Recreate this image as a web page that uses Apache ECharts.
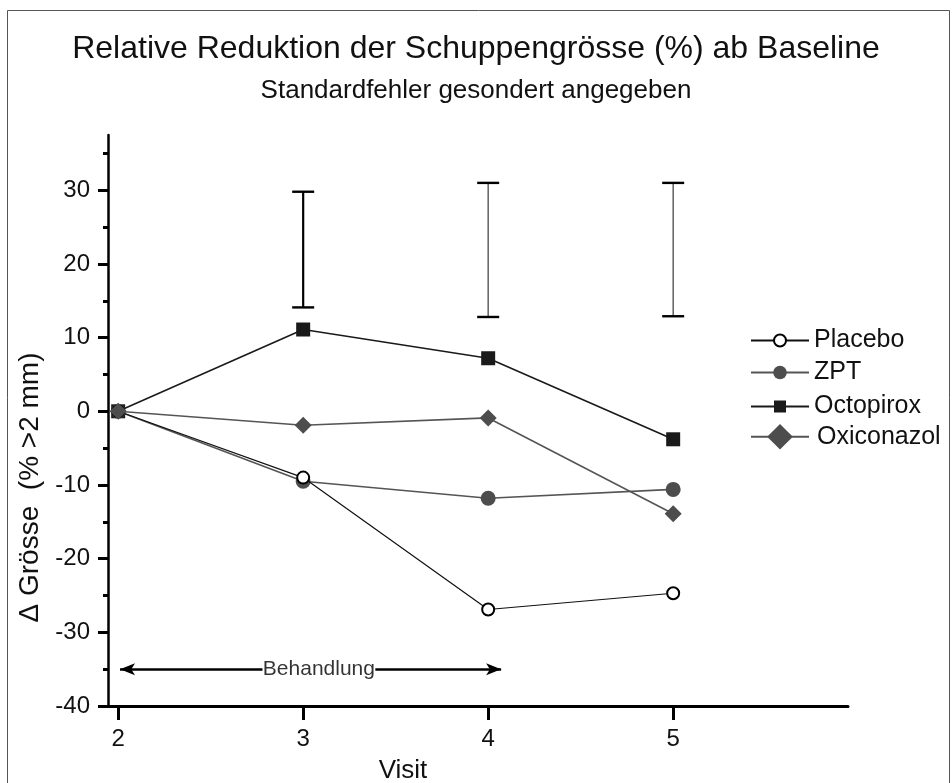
<!DOCTYPE html>
<html>
<head>
<meta charset="utf-8">
<style>
  html, body { margin: 0; padding: 0; background: #fff; }
  #chart { width: 952px; height: 783px; }
</style>
<script src="https://cdn.jsdelivr.net/npm/echarts@6/dist/echarts.min.js"></script>
</head>
<body>
<div id="chart"></div>
<script>
    // Werte
    var visits = [2, 3, 4, 5];
    var placebo = [0, -9.0, -26.9, -24.7];
    var zpt = [0, -9.5, -11.8, -10.6];
    var octopirox = [0, 11.1, 7.2, -3.8];
    var oxiconazol = [0, -1.9, -0.9, -13.9];
    // Standardfehler: [visit, unten, oben]
    var errBars = [[3, 14.1, 29.8], [4, 12.8, 31.0], [5, 12.9, 31.0]];
    var majorTicks = [-40, -30, -20, -10, 0, 10, 20, 30];
    var minorTicks = [-35, -25, -15, -5, 5, 15, 25, 35];
    // Pfeil "Behandlung": links und rechts vom Text
    var treatLeft = [[2.01, -35], [2.78, -35]];
    var treatRight = [[3.39, -35], [4.07, -35]];
    var treatLabel = [3.085, -35];

    var font = 'Liberation Sans, Arial, sans-serif';
    var chart = echarts.init(document.getElementById('chart'));

    function pairs(values) {
        return values.map(function (v, i) { return [visits[i], v]; });
    }

    function legendFor(name, top, h, textPad) {
        return {
            orient: 'vertical',
            left: 750,
            top: top,
            padding: 0,
            itemWidth: 58,
            itemHeight: h,
            selectedMode: false,
            data: [name],
            textStyle: {fontFamily: font, fontSize: 25, color: '#111', padding: textPad || 0}
        };
    }

    var option = {
        animation: false,
        backgroundColor: '#fff',
        title: {
            text: 'Relative Reduktion der Schuppengrösse (%) ab Baseline',
            subtext: 'Standardfehler gesondert angegeben',
            left: 'center',
            top: 28,
            itemGap: 13,
            textStyle: {fontFamily: font, fontSize: 32, fontWeight: 'normal', color: '#111'},
            subtextStyle: {fontFamily: font, fontSize: 26, color: '#111'}
        },
        graphic: [{
            type: 'rect',
            shape: {x: 7.5, y: 10.5, width: 942, height: 790},
            style: {fill: 'none', stroke: '#555', lineWidth: 1},
            silent: true
        }],
        legend: [
            legendFor('Placebo', 328, 15),
            legendFor('ZPT', 360, 17, [0, 0, 12, 0]),
            legendFor('Octopirox', 394, 15),
            legendFor('Oxiconazol', 424, 32, [10, 0, 0, 3])
        ],
        grid: {left: 108, right: 104, top: 135, bottom: 77, outerBoundsMode: 'none'},
        xAxis: {
            type: 'value',
            min: 1.945,
            max: 5.945,
            name: 'Visit',
            nameLocation: 'middle',
            nameGap: 52,
            nameTextStyle: {fontFamily: font, fontSize: 26, color: '#111', padding: [0, 150, 0, 0]},
            axisLine: {onZero: false, lineStyle: {color: '#000', width: 3}},
            axisTick: {customValues: visits, length: 14, lineStyle: {color: '#000', width: 3}},
            axisLabel: {customValues: visits, fontFamily: font, fontSize: 24, color: '#111', margin: 21},
            splitLine: {show: false}
        },
        yAxis: [{
            type: 'value',
            min: -40,
            max: 37.5,
            position: 'left',
            name: 'Δ Grösse  (% >2 mm)',
            nameLocation: 'middle',
            nameGap: 47,
            nameTextStyle: {fontFamily: font, fontSize: 28, color: '#111', padding: [0, 134, 0, 0]},
            axisLine: {lineStyle: {color: '#000', width: 2.5}},
            axisTick: {customValues: majorTicks, length: 10, lineStyle: {color: '#000', width: 3}},
            axisLabel: {customValues: majorTicks, fontFamily: font, fontSize: 24, color: '#111', margin: 18},
            splitLine: {show: false}
        }, {
            type: 'value',
            min: -40,
            max: 37.5,
            position: 'left',
            axisLine: {show: false},
            axisTick: {customValues: minorTicks, length: 5, lineStyle: {color: '#000', width: 3}},
            axisLabel: {show: false},
            splitLine: {show: false}
        }],
        series: [{
            name: 'Octopirox',
            type: 'line',
            data: pairs(octopirox),
            symbol: 'rect',
            symbolSize: 14,
            itemStyle: {color: '#1a1a1a'},
            lineStyle: {color: '#1a1a1a', width: 1.6},
            z: 3
        }, {
            name: 'ZPT',
            type: 'line',
            data: pairs(zpt),
            symbol: 'circle',
            symbolSize: 15,
            itemStyle: {color: '#4d4d4d'},
            lineStyle: {color: '#555', width: 1.6},
            z: 3
        }, {
            name: 'Placebo',
            type: 'line',
            data: pairs(placebo),
            symbol: 'emptyCircle',
            symbolSize: 12,
            itemStyle: {color: '#000', borderWidth: 2.6},
            lineStyle: {color: '#111', width: 1.2},
            z: 4
        }, {
            name: 'Oxiconazol',
            type: 'line',
            data: pairs(oxiconazol),
            symbol: 'diamond',
            symbolSize: 17,
            itemStyle: {color: '#4d4d4d'},
            lineStyle: {color: '#555', width: 1.6},
            z: 5
        }, {
            name: 'SE',
            type: 'custom',
            data: errBars,
            encode: {x: 0, y: [1, 2]},
            renderItem: function (params, api) {
                var x = api.value(0);
                var lo = api.coord([x, api.value(1)]);
                var hi = api.coord([x, api.value(2)]);
                var w = 11;
                var first = params.dataIndex === 0;
                return {
                    type: 'group',
                    children: [{
                        type: 'line',
                        shape: {x1: hi[0], y1: hi[1], x2: lo[0], y2: lo[1]},
                        style: {stroke: first ? '#000' : '#555', lineWidth: first ? 2.2 : 1.4}
                    }, {
                        type: 'line',
                        shape: {x1: hi[0] - w, y1: hi[1], x2: hi[0] + w, y2: hi[1]},
                        style: {stroke: '#000', lineWidth: 2.4}
                    }, {
                        type: 'line',
                        shape: {x1: lo[0] - w, y1: lo[1], x2: lo[0] + w, y2: lo[1]},
                        style: {stroke: '#000', lineWidth: 2.4}
                    }]
                };
            },
            silent: true,
            z: 2
        }, {
            name: 'Behandlung',
            type: 'scatter',
            data: [treatLabel],
            symbolSize: 0,
            silent: true,
            label: {
                show: true,
                position: 'inside',
                formatter: 'Behandlung',
                fontFamily: font,
                fontSize: 21,
                color: '#000',
                textBorderWidth: 0
            },
            markLine: {
                silent: true,
                label: {show: false},
                lineStyle: {color: '#000', width: 2.5, type: 'solid'},
                symbolSize: [9, 15],
                data: [
                    [{coord: treatLeft[0], symbol: 'arrow'}, {coord: treatLeft[1], symbol: 'none'}],
                    [{coord: treatRight[0], symbol: 'none'}, {coord: treatRight[1], symbol: 'arrow'}]
                ]
            },
            z: 6
        }]
    };

    chart.setOption(option);
</script>
</body>
</html>
